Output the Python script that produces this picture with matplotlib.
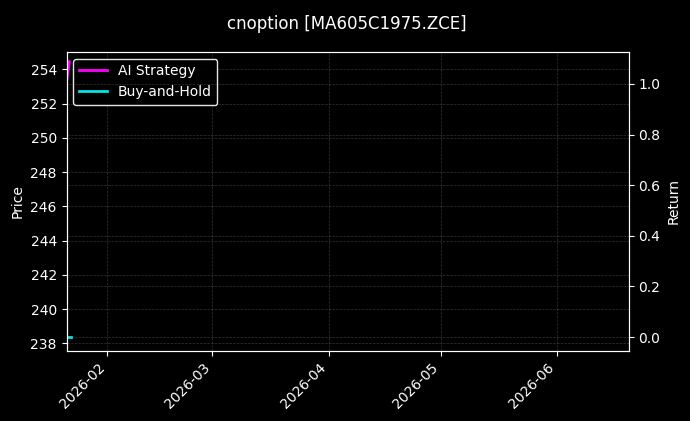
import numpy as np
import pandas as pd
import matplotlib
matplotlib.use("Agg")
import matplotlib.pyplot as plt
import matplotlib.dates as mdates

plt.style.use("dark_background")

# data
ai_dates = pd.to_datetime(["2026-01-20 22:00", "2026-01-21 20:00"])
ai_values = [253.0, 254.45]
bh_dates = pd.to_datetime(["2026-01-21 01:00", "2026-01-22 04:00"])
bh_values = [238.37, 238.37]

x_range = pd.to_datetime(["2026-01-21 02:00", "2026-06-20 02:00"])
price_lim = (237.57, 255.03)
return_lim = (-0.054, 1.127)

fig = plt.figure(figsize=(6.9, 4.21), dpi=100)
fig.patch.set_facecolor("black")
ax1 = fig.add_axes([0.0964, 0.167, 0.815, 0.710])
ax1.set_facecolor("black")
ax2 = ax1.twinx()

ax1.plot(ai_dates, ai_values, color="#ff00ff", lw=2, label="AI Strategy")
ax1.plot(bh_dates, bh_values, color="#00e5e5", lw=2, label="Buy-and-Hold")

ax1.set_xlim(x_range[0], x_range[1])
ax1.set_ylim(*price_lim)
ax2.set_ylim(*return_lim)
ax1.set_yticks(np.arange(238, 255, 2))
ax2.set_yticks(np.arange(0, 1.01, 0.2))

ax1.xaxis.set_major_locator(mdates.MonthLocator())
ax1.xaxis.set_major_formatter(mdates.DateFormatter("%Y-%m"))
for lbl in ax1.get_xticklabels():
    lbl.set_rotation(45)
    lbl.set_ha("right")

ax1.set_ylabel("Price", color="white")
ax2.set_ylabel("Return", color="white")

ax1.grid(True, color="gray", linestyle="--", linewidth=0.5, alpha=0.4)
ax2.grid(True, color="gray", linestyle="--", linewidth=0.5, alpha=0.4)

for sp in ax2.spines.values():
    sp.set_color("white")

ax1.legend(loc="upper left", facecolor="black", edgecolor="white", framealpha=0.9)

fig.suptitle("cnoption [MA605C1975.ZCE]", fontsize=12, y=0.965, x=0.503)

fig.savefig("out.png", dpi=100, facecolor=fig.get_facecolor())
